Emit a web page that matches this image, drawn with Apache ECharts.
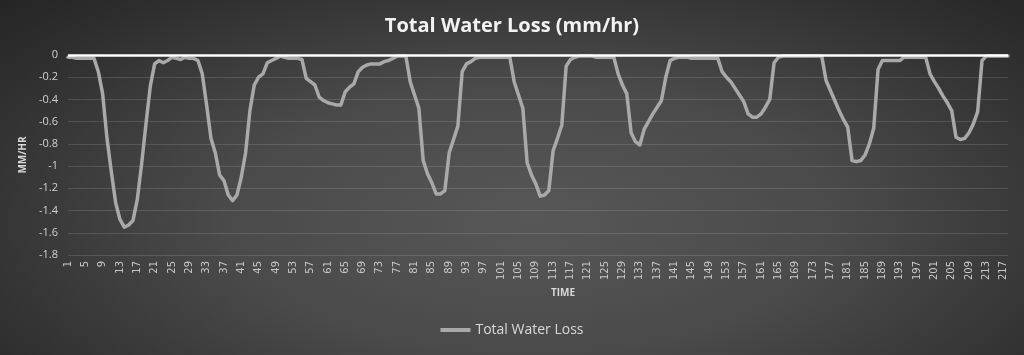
<!DOCTYPE html>
<html>
<head>
<meta charset="utf-8">
<script src="https://cdn.jsdelivr.net/npm/echarts@6/dist/echarts.min.js"></script>
<style>
html,body{margin:0;padding:0;}
#chart{width:1024px;height:355px;background:radial-gradient(ellipse 75% 95% at 52% 62%, #575757 0%, #4a4a4a 40%, #2e2e2e 80%, #222 100%);}
</style>
</head>
<body>
<div id="chart"></div>
<script>
const title = 'Total Water Loss (mm/hr)';
const seriesName = 'Total Water Loss';
const yTicks = [0, -0.2, -0.4, -0.6, -0.8, -1, -1.2, -1.4, -1.6, -1.8];
const waterLoss = [
 -0.02,-0.02,-0.03,-0.03,-0.03,-0.03,-0.03,-0.15,-0.35,-0.75,
 -1.05,-1.33,-1.48,-1.55,-1.53,-1.49,-1.30,-0.98,-0.62,-0.28,
 -0.08,-0.05,-0.07,-0.05,-0.02,-0.03,-0.04,-0.02,-0.03,-0.03,
 -0.05,-0.17,-0.45,-0.75,-0.88,-1.08,-1.13,-1.26,-1.31,-1.26,
 -1.10,-0.88,-0.50,-0.27,-0.20,-0.17,-0.07,-0.05,-0.03,-0.01,
 -0.02,-0.03,-0.03,-0.03,-0.04,-0.21,-0.24,-0.27,-0.38,-0.41,
 -0.43,-0.44,-0.45,-0.45,-0.33,-0.29,-0.26,-0.15,-0.11,-0.09,
 -0.08,-0.08,-0.08,-0.06,-0.05,-0.03,-0.01,-0.01,-0.01,-0.24,
 -0.36,-0.48,-0.95,-1.07,-1.15,-1.25,-1.25,-1.22,-0.88,-0.76,
 -0.64,-0.15,-0.08,-0.06,-0.03,-0.02,-0.02,-0.02,-0.02,-0.02,
 -0.02,-0.02,-0.02,-0.24,-0.36,-0.48,-0.97,-1.08,-1.16,-1.27,
 -1.26,-1.22,-0.86,-0.75,-0.63,-0.10,-0.04,-0.02,-0.01,-0.01,
 -0.01,-0.01,-0.02,-0.02,-0.02,-0.02,-0.02,-0.17,-0.27,-0.35,
 -0.70,-0.78,-0.81,-0.67,-0.60,-0.53,-0.47,-0.41,-0.20,-0.05,
 -0.03,-0.02,-0.02,-0.02,-0.03,-0.03,-0.03,-0.03,-0.03,-0.03,
 -0.03,-0.15,-0.20,-0.24,-0.30,-0.36,-0.42,-0.53,-0.56,-0.56,
 -0.53,-0.47,-0.40,-0.07,-0.02,-0.01,-0.01,-0.01,-0.01,-0.01,
 -0.01,-0.01,-0.01,-0.01,-0.01,-0.23,-0.32,-0.41,-0.50,-0.58,
 -0.65,-0.95,-0.96,-0.95,-0.90,-0.80,-0.66,-0.13,-0.05,-0.05,
 -0.05,-0.05,-0.05,-0.02,-0.02,-0.02,-0.02,-0.02,-0.02,-0.17,
 -0.24,-0.30,-0.37,-0.43,-0.50,-0.74,-0.76,-0.75,-0.70,-0.62,
 -0.51,-0.05,-0.01,-0.01,-0.01,-0.01,-0.01,-0.01
];
const categories = waterLoss.map((_, i) => String(i + 1));

const chart = echarts.init(document.getElementById('chart'), null, {renderer: 'canvas'});
chart.setOption({
  backgroundColor: 'transparent',
  animation: false,
  title: {
    text: title, left: 'center', top: 11,
    textStyle: {color: '#f2f2f2', fontSize: 20, fontWeight: 'bold', fontFamily: 'Open Sans'}
  },
  legend: {
    bottom: 13, left: 'center',
    icon: 'rect', itemWidth: 30, itemHeight: 4, itemGap: 2,
    textStyle: {color: '#d9d9d9', fontSize: 14, fontFamily: 'Open Sans'},
    data: [seriesName]
  },
  grid: {left: 68, right: 16, top: 55, bottom: 100},
  xAxis: {
    type: 'category', data: categories, boundaryGap: false,
    name: 'TIME', nameLocation: 'middle', nameGap: 33,
    nameTextStyle: {color: '#d9d9d9', fontSize: 10, fontWeight: 'bold', fontFamily: 'Open Sans', padding: [0, 0, 0, 50]},
    axisLine: {show: false, onZero: false},
    axisTick: {show: false},
    axisLabel: {interval: 3, rotate: 90, color: '#c8c8c8', fontSize: 10, fontFamily: 'DejaVu Sans', margin: 6},
    splitLine: {show: false}
  },
  yAxis: {
    type: 'value', min: -1.8, max: 0, interval: 0.2,
    name: 'MM/HR', nameLocation: 'middle', nameGap: 36, nameRotate: 90,
    nameTextStyle: {color: '#d9d9d9', fontSize: 10, fontWeight: 'bold', fontFamily: 'Open Sans'},
    axisLine: {show: false}, axisTick: {show: false},
    axisLabel: {color: '#d0d0d0', fontSize: 11, fontFamily: 'Open Sans', margin: 10,
      formatter: v => { const r = Math.round(v * 10) / 10; return yTicks.includes(r) ? String(r) : ''; }},
    splitLine: {lineStyle: {color: 'rgba(255,255,255,0.13)', width: 1}}
  },
  series: [{
    name: seriesName, type: 'line', data: waterLoss, showSymbol: false, symbol: 'none',
    lineStyle: {color: '#a9a9a9', width: 3.5, join: 'round', cap: 'round'},
    itemStyle: {color: '#a9a9a9'},
    markLine: {
      silent: true, symbol: 'none', label: {show: false},
      lineStyle: {color: '#ffffff', width: 2.5, type: 'solid'},
      data: [{yAxis: 0}]
    },
    z: 3
  }]
});
</script>
</body>
</html>
